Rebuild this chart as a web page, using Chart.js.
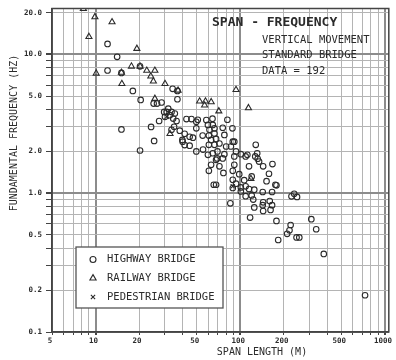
<!DOCTYPE html>
<html>
<head>
<meta charset="utf-8">
<script src="https://cdn.jsdelivr.net/npm/chart.js@4/dist/chart.umd.min.js"></script>
<style>
  body { margin: 0; background: #fff; }
  canvas { display: block; }
</style>
</head>
<body>
<canvas id="myChart" width="396" height="360"></canvas>
<script>
// grid / tick values
var xGrid = [5, 6, 7, 8, 9, 10, 20, 30, 40, 50, 60, 70, 80, 90, 100, 200, 300, 400, 500, 600, 700, 800, 900, 1000];
var xTickValues = [5, 10, 20, 50, 100, 200, 500, 1000];
var xTickLabels = ["5", "10", "20", "50", "100", "200", "500", "1000"];
var yGrid = [0.1, 0.2, 0.3, 0.4, 0.5, 0.6, 0.7, 0.8, 0.9, 1, 2, 3, 4, 5, 6, 7, 8, 9, 10, 20];
var yTickValues = [0.1, 0.2, 0.5, 1, 2, 5, 10, 20];
var yTickLabels = ["0.1", "0.2", "0.5", "1.0", "2.0", "5.0", "10.0", "20.0"];

// highway bridges (span m, frequency Hz)
var highwaySpan = [
    12.1, 14.1, 12.1, 15.1, 20.3, 18.1, 20.5, 15.1, 20.3, 24.2, 25.4,
    25.2, 26.6, 28.6, 29.8, 31.8, 31.0, 33.5, 35.3, 30.2, 32.6, 34.4, 36.3, 27.5, 34.1, 36.8, 36.8,
    42.5, 46.0, 49.7, 34.9, 38.2, 41.3, 44.7, 47.1, 39.8, 44.7, 49.7, 40.0, 33.5, 41.3,
    50.9, 64.3, 81.5, 58.3, 59.8, 64.6, 61.3, 66.3, 60.7, 66.3, 62.9, 68.1, 60.7, 66.3, 71.8, 77.7,
    75.7, 91.0, 79.9, 86.2, 55.3, 64.6, 69.6, 77.7, 93.5, 75.7, 69.2, 59.8, 62.9, 60.7, 65.6, 68.1,
    71.8, 91.0, 101, 109, 91.0, 98.4, 128, 127, 115, 120, 106.5, 68.1, 88.8, 93.5, 101, 49.7, 55,
    131, 135, 88.3,
    88.8, 112, 132, 144, 167, 158, 152, 175, 178, 88.8, 109, 115, 101, 88.8, 125, 143, 166, 109,
    120, 123, 144, 143, 160, 166, 162, 144, 125, 85.4, 117, 178, 226, 236, 247, 223, 219, 211, 183,
    245, 256, 310, 335, 378, 729, 76.5
];
var highwayFreq = [
    11.9, 9.6, 7.65, 7.35, 8.2, 5.45, 4.7, 2.88, 2.03, 3.0, 2.38,
    4.42, 4.42, 4.5, 3.85, 4.06, 3.85, 3.85, 3.75, 3.55, 3.65, 3.45, 3.31, 3.31, 5.65, 5.45, 4.75,
    3.42, 3.42, 3.27, 3.01, 2.82, 2.68, 2.55, 2.51, 2.42, 2.2, 2.0, 2.35, 2.86, 2.22,
    3.38, 3.44, 3.38, 3.36, 3.1, 3.1, 2.86, 2.93, 2.6, 2.69, 2.42, 2.46, 2.23, 2.23, 2.28, 2.63,
    2.96, 2.35, 2.17, 2.17, 2.06, 1.94, 2.0, 1.91, 2.0, 1.78, 1.78, 1.89, 1.6, 1.45, 1.15, 1.74,
    1.56, 1.84, 1.91, 1.84, 1.6, 1.37, 2.23, 1.84, 1.56, 1.32, 1.24, 1.15, 1.25, 1.17, 1.1, 2.93, 2.6,
    1.94, 1.69, 2.93,
    2.35, 1.89, 1.77, 1.56, 1.62, 1.38, 1.22, 1.15, 1.14, 1.45, 1.12, 1.07, 1.03, 1.09, 1.06, 1.02, 1.02, 0.952,
    0.963, 0.9, 0.86, 0.82, 0.877, 0.82, 0.757, 0.744, 0.79, 0.845, 0.667, 0.631, 0.95, 0.99, 0.94, 0.59, 0.54, 0.51, 0.46,
    0.48, 0.48, 0.65, 0.55, 0.365, 0.184, 1.4
];

// railway bridges
var railwaySpan = [8.24, 9.9, 13.0, 9.0, 19.3, 10.1, 17.7, 20.3, 22.6, 25.7, 24.1, 25.1, 30.2, 15.2,
    25.7, 32.7, 37.2, 52.4, 57.5, 63.0, 56.7, 71.1, 93.5, 114, 118.5, 15.1];
var railwayFreq = [21.3, 18.6, 17.1, 13.4, 11.0, 7.3, 8.2, 8.2, 7.65, 7.65, 6.96, 6.41, 6.14, 6.14,
    4.8, 2.68, 5.5, 4.59, 4.59, 4.54, 4.3, 3.9, 5.56, 4.11, 1.27, 7.4];

// pedestrian bridges
var pedestrianSpan = [88.8, 31.0];
var pedestrianFreq = [1.12, 3.55];

var ink = "#2b2b2b";
var mono = "'DejaVu Sans Mono', 'Liberation Mono', monospace";

function toPoints(xs, ys) {
    return xs.map(function (x, i) { return { x: x, y: ys[i] }; });
}

function isMajor(v) {
    return v === 10 || v === 100 || v === 1 || v === 1000;
}

// frame, legend box, notes and axis titles
var paperPlugin = {
    id: "paper",
    afterDatasetsDraw: function (chart) {
        var c = chart.ctx;
        var a = chart.chartArea;
        c.save();
        c.strokeStyle = "#444";
        c.lineWidth = 1.5;
        c.strokeRect(a.left, a.top, a.right - a.left, a.bottom - a.top);

        // legend
        var lx = 76, ly = 247, lw = 147, lh = 61;
        c.fillStyle = "#fff";
        c.fillRect(lx, ly, lw, lh);
        c.strokeStyle = "#555";
        c.lineWidth = 1.3;
        c.strokeRect(lx, ly, lw, lh);
        var rows = [
            ["circle", "HIGHWAY BRIDGE"],
            ["triangle", "RAILWAY BRIDGE"],
            ["crossRot", "PEDESTRIAN BRIDGE"]
        ];
        c.font = "10.5px " + mono;
        c.textBaseline = "middle";
        c.textAlign = "left";
        rows.forEach(function (r, i) {
            var yy = 259.5 + i * 18.7;
            c.strokeStyle = ink;
            c.fillStyle = "rgba(0,0,0,0)";
            c.lineWidth = 1.1;
            Chart.helpers.drawPoint(c, { pointStyle: r[0], radius: r[0] === "triangle" ? 3.6 : 3.0, rotation: 0, borderWidth: 1.1 }, 93, yy);
            c.fillStyle = ink;
            c.fillText(r[1], 107, yy);
        });

        // notes
        c.fillStyle = ink;
        c.font = "bold 13px " + mono;
        c.fillText("SPAN - FREQUENCY", 212, 23);
        c.font = "10.5px " + mono;
        c.fillText("VERTICAL MOVEMENT", 262, 40);
        c.fillText("STANDARD BRIDGE", 262, 55.5);
        c.fillText("DATA = 192", 262, 71.5);

        // axis titles
        c.font = "10px " + mono;
        c.textAlign = "center";
        c.fillText("SPAN LENGTH (M)", 262, 352.5);
        c.translate(14, 133);
        c.rotate(-Math.PI / 2);
        c.fillText("FUNDAMENTAL FREQUENCY (HZ)", 0, 0);
        c.restore();
    }
};

var ctx = document.getElementById("myChart").getContext("2d");
var chart = new Chart(ctx, {
    type: "scatter",
    data: {
        datasets: [
            {
                label: "HIGHWAY BRIDGE",
                data: toPoints(highwaySpan, highwayFreq),
                pointStyle: "circle",
                radius: 2.8,
                borderColor: ink,
                backgroundColor: "rgba(0,0,0,0)",
                borderWidth: 1.1
            },
            {
                label: "RAILWAY BRIDGE",
                data: toPoints(railwaySpan, railwayFreq),
                pointStyle: "triangle",
                radius: 3.5,
                borderColor: ink,
                backgroundColor: "rgba(0,0,0,0)",
                borderWidth: 1.1
            },
            {
                label: "PEDESTRIAN BRIDGE",
                data: toPoints(pedestrianSpan, pedestrianFreq),
                pointStyle: "crossRot",
                radius: 3,
                borderColor: ink,
                borderWidth: 1.1
            }
        ]
    },
    options: {
        responsive: false,
        animation: false,
        devicePixelRatio: 1,
        layout: { padding: { top: 5, right: 3, left: 0, bottom: 0 } },
        plugins: { legend: { display: false }, tooltip: { enabled: false } },
        scales: {
            x: {
                type: "logarithmic",
                min: 5,
                max: 1064,
                afterBuildTicks: function (axis) {
                    axis.ticks = xGrid.map(function (v) { return { value: v }; });
                },
                afterFit: function (axis) { axis.height = 28; },
                border: { display: true, color: "#444", width: 1.5 },
                grid: {
                    color: function (c) { return isMajor(c.tick && c.tick.value) ? "#8c8c8c" : "#b4b4b4"; },
                    lineWidth: function (c) { return isMajor(c.tick && c.tick.value) ? 2 : 1; },
                    tickColor: "#444",
                    tickLength: 3
                },
                ticks: {
                    autoSkip: false,
                    maxRotation: 0,
                    labelOffset: -2,
                    padding: 2,
                    color: ink,
                    font: { family: mono, size: 7.5, weight: "bold" },
                    callback: function (v) {
                        var i = xTickValues.indexOf(v);
                        return i >= 0 ? xTickLabels[i] : "";
                    }
                }
            },
            y: {
                type: "logarithmic",
                min: 0.1,
                max: 21.4,
                afterBuildTicks: function (axis) {
                    axis.ticks = yGrid.map(function (v) { return { value: v }; });
                },
                afterFit: function (axis) { axis.width = 52; },
                border: { display: true, color: "#444", width: 1.5 },
                grid: {
                    color: function (c) { return isMajor(c.tick && c.tick.value) ? "#8c8c8c" : "#b4b4b4"; },
                    lineWidth: function (c) { return isMajor(c.tick && c.tick.value) ? 2 : 1; },
                    tickColor: "#444",
                    tickLength: 6
                },
                ticks: {
                    autoSkip: false,
                    padding: 4,
                    color: ink,
                    font: { family: mono, size: 7.5, weight: "bold" },
                    callback: function (v) {
                        var i = yTickValues.indexOf(v);
                        return i >= 0 ? yTickLabels[i] : "";
                    }
                }
            }
        }
    },
    plugins: [paperPlugin]
});
</script>
</body>
</html>
